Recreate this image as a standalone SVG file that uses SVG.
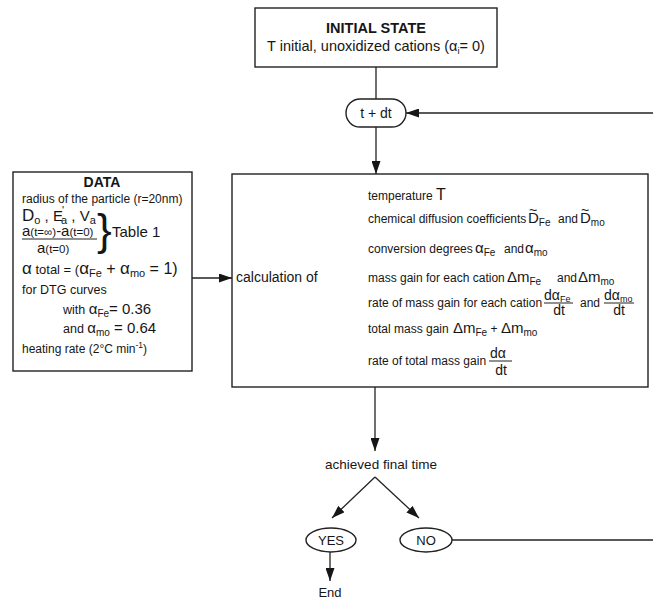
<svg xmlns="http://www.w3.org/2000/svg" width="653" height="600" viewBox="0 0 653 600">
<defs>
<style>
text{font-family:"Liberation Sans",Arial,Helvetica,sans-serif;fill:#161616}
.box{fill:#fff;stroke:#222;stroke-width:1.4}
.ln{stroke:#222;stroke-width:1.3;fill:none}
.lb{font-size:12px}
.m{font-size:15px}
.s{font-size:10px}
</style>
<marker id="ah" markerWidth="13" markerHeight="9" refX="13" refY="4.5" orient="auto" markerUnits="userSpaceOnUse">
<path d="M0,0 L13,4.5 L0,9 z" fill="#161616"/>
</marker>
<marker id="af" markerWidth="12" markerHeight="8" refX="12" refY="4" orient="auto" markerUnits="userSpaceOnUse">
<path d="M0,0 L12,4 L0,8 z" fill="#161616"/>
</marker>
</defs>
<rect width="653" height="600" fill="#fff"/>

<g id="connectors">
<line class="ln" x1="376" y1="67" x2="376" y2="99"/>
<line class="ln" x1="376" y1="127" x2="376" y2="174" marker-end="url(#ah)"/>
<line class="ln" x1="653" y1="113" x2="406" y2="113" marker-end="url(#ah)"/>
<line class="ln" x1="192" y1="278" x2="232" y2="278" marker-end="url(#ah)"/>
<line class="ln" x1="375" y1="387" x2="375" y2="451" marker-end="url(#ah)"/>
<line class="ln" x1="375" y1="477" x2="332" y2="518" marker-end="url(#ah)"/>
<line class="ln" x1="375" y1="477" x2="419" y2="518" marker-end="url(#ah)"/>
<line class="ln" x1="452" y1="540" x2="653" y2="540"/>
<line class="ln" x1="330" y1="552" x2="330" y2="581" marker-end="url(#ah)"/>
<g id="fan">
<line class="ln" x1="321" y1="278" x2="367" y2="195" marker-end="url(#af)"/>
<line class="ln" x1="321" y1="278" x2="367" y2="218" marker-end="url(#af)"/>
<line class="ln" x1="321" y1="278" x2="367" y2="250" marker-end="url(#af)"/>
<line class="ln" x1="321" y1="278" x2="366" y2="278" marker-end="url(#af)"/>
<line class="ln" x1="321" y1="278" x2="362" y2="303" marker-end="url(#af)"/>
<line class="ln" x1="321" y1="278" x2="362" y2="326" marker-end="url(#af)"/>
<line class="ln" x1="321" y1="278" x2="366" y2="365" marker-end="url(#af)"/>
</g>
</g>

<g id="initial">
<rect class="box" x="255" y="8" width="242" height="59"/>
<text x="376" y="33" font-size="14.5" font-weight="bold" text-anchor="middle">INITIAL STATE</text>
<text x="376" y="51" font-size="14.5" text-anchor="middle">T initial, unoxidized cations (α<tspan font-size="9.5" dy="3">i</tspan><tspan dy="-3">= 0)</tspan></text>
</g>

<g id="tdt">
<rect class="box" x="346" y="99" width="60" height="28" rx="14"/>
<text x="376" y="118" font-size="14" text-anchor="middle">t + dt</text>
</g>

<g id="data">
<rect class="box" x="13" y="172" width="179" height="199"/>
<text x="102" y="187" font-size="14" font-weight="bold" text-anchor="middle">DATA</text>
<text x="22" y="203" font-size="12">radius of the particle (r=20nm)</text>
<text x="22" y="221" font-size="17">D<tspan font-size="11" dy="3">o</tspan><tspan font-size="15" dy="-3"> , E</tspan><tspan font-size="11" dx="-1" dy="-7">'</tspan><tspan font-size="11" dx="-3" dy="10">a</tspan><tspan font-size="15" dy="-3"> , V</tspan><tspan font-size="11" dy="3">a</tspan></text>
<text x="22" y="236" font-size="15">a<tspan font-size="11.5">(t=∞)</tspan>-a<tspan font-size="11.5">(t=0)</tspan></text>
<line x1="22" y1="239" x2="97" y2="239" stroke="#222" stroke-width="1.2"/>
<text x="37" y="253" font-size="15">a<tspan font-size="11.5">(t=0)</tspan></text>
<text x="97" y="245" font-size="44">}</text>
<text x="112" y="237" font-size="15">Table 1</text>
<text x="22" y="274" font-size="17">α<tspan font-size="13"> total = (</tspan>α<tspan font-size="11" dy="3">Fe</tspan><tspan font-size="16" dy="-3"> + </tspan>α<tspan font-size="11" dy="3">mo</tspan><tspan font-size="16" dy="-3"> = 1)</tspan></text>
<text x="22" y="294" font-size="12.5">for DTG curves</text>
<text x="63" y="314" font-size="12.5">with <tspan class="m">α</tspan><tspan class="s" dy="3">Fe</tspan><tspan class="m" dy="-3">= 0.36</tspan></text>
<text x="63" y="333" font-size="12.5">and <tspan class="m">α</tspan><tspan class="s" dy="3">mo</tspan><tspan class="m" dy="-3"> = 0.64</tspan></text>
<text x="22" y="353" font-size="12">heating rate (2°C min<tspan font-size="8.5" dy="-5">-1</tspan><tspan dy="5">)</tspan></text>
</g>

<g id="calc">
<rect class="box" x="232" y="174" width="416" height="213"/>
<text x="236" y="282" font-size="14">calculation of</text>
<text class="lb" x="368" y="200">temperature <tspan font-size="16">T</tspan></text>
<text class="lb" x="368" y="223">chemical diffusion coefficients</text>
<text class="m" x="528" y="223">D<tspan class="s" dy="3">Fe</tspan></text>
<text font-size="14" x="529" y="215">~</text>
<text class="lb" x="558" y="223">and</text>
<text class="m" x="580" y="223">D<tspan class="s" dy="3">mo</tspan></text>
<text font-size="14" x="581" y="215">~</text>
<text class="lb" x="368" y="253">conversion degrees</text>
<text class="m" x="475" y="253">α<tspan class="s" dy="3">Fe</tspan></text>
<text class="lb" x="504" y="253">and</text>
<text class="m" x="525" y="253">α<tspan class="s" dy="3">mo</tspan></text>
<text class="lb" x="368" y="282">mass gain for each cation</text>
<text class="m" x="507" y="282">Δm<tspan class="s" dy="3">Fe</tspan></text>
<text class="lb" x="557" y="282">and</text>
<text class="m" x="578" y="282">Δm<tspan class="s" dy="3">mo</tspan></text>
<text class="lb" x="368" y="307">rate of mass gain for each cation</text>
<text font-size="14" x="544" y="300">dα<tspan font-size="9" dy="2">Fe</tspan></text>
<line x1="544" y1="303" x2="573" y2="303" stroke="#222" stroke-width="1"/>
<text font-size="14" x="559" y="315" text-anchor="middle">dt</text>
<text class="lb" x="580" y="307">and</text>
<text font-size="14" x="604" y="300">dα<tspan font-size="9" dy="2">mo</tspan></text>
<line x1="604" y1="303" x2="634" y2="303" stroke="#222" stroke-width="1"/>
<text font-size="14" x="619" y="315" text-anchor="middle">dt</text>
<text class="lb" x="368" y="333">total mass gain</text>
<text class="m" x="453" y="333">Δm<tspan class="s" dy="3">Fe</tspan><tspan font-size="12" dy="-3"> + </tspan>Δm<tspan class="s" dy="3">mo</tspan></text>
<text class="lb" x="368" y="365">rate of total mass gain</text>
<text font-size="14" x="490" y="358">dα</text>
<line x1="489" y1="361" x2="512" y2="361" stroke="#222" stroke-width="1"/>
<text font-size="14" x="501" y="375" text-anchor="middle">dt</text>
</g>

<g id="decision">
<text x="381" y="469" font-size="13.5" text-anchor="middle">achieved final time</text>
</g>
<g id="yes">
<ellipse class="box" cx="331" cy="540" rx="25" ry="12"/>
<text x="331" y="545" font-size="13" text-anchor="middle">YES</text>
</g>
<g id="no">
<ellipse class="box" cx="426" cy="540" rx="26" ry="12"/>
<text x="426" y="545" font-size="13" text-anchor="middle">NO</text>
</g>
<g id="end">
<text x="330" y="597" font-size="13" text-anchor="middle">End</text>
</g>
</svg>
